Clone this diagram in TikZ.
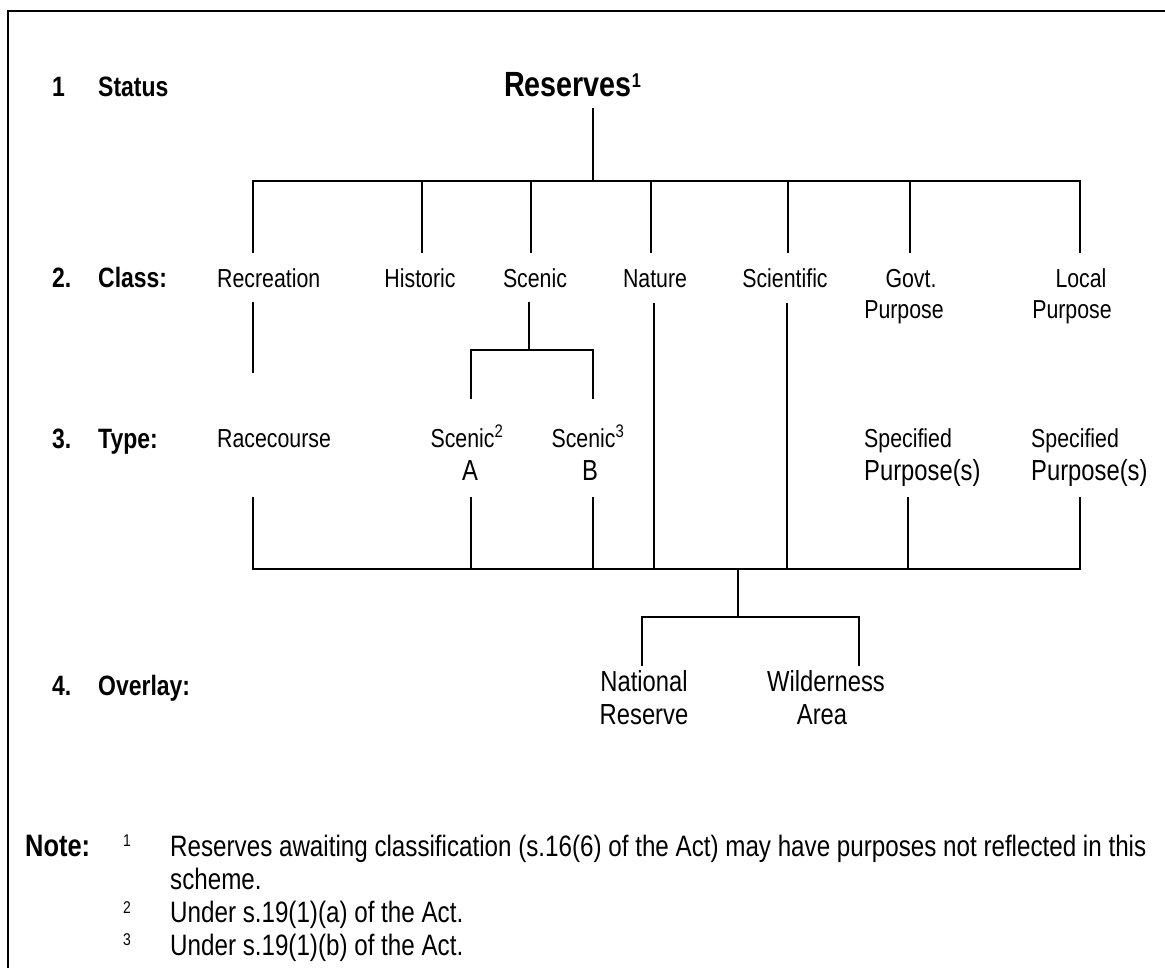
\documentclass[tikz,border=0pt]{standalone}
\usepackage{fontspec}
\setmainfont{Liberation Sans}[FakeStretch=0.82]
\begin{document}
\begin{tikzpicture}[x=1pt,y=-1pt,
  lbl/.style={font=\fontsize{26}{30}\selectfont, inner sep=0pt},
  bigl/.style={font=\fontsize{29}{33}\selectfont, inner sep=0pt},
  hdr/.style={font=\bfseries\fontsize{28}{32}\selectfont, inner sep=0pt, anchor=base west},
  rootl/.style={font=\bfseries\fontsize{35}{40}\selectfont, inner sep=0pt},
  notet/.style={font=\fontsize{29.5}{33}\selectfont, inner sep=0pt, anchor=base west},
  supn/.style={font=\fontsize{17}{20}\selectfont, inner sep=0pt, anchor=base},
  conn/.style={line width=2pt},
  framel/.style={line width=2.5pt}]
\useasboundingbox (0,0) rectangle (1165,968);
\fill[white] (0,0) rectangle (1165,968);
% frame
\coordinate (fbl) at (8,968);
\coordinate (ftl) at (8,11);
\coordinate (ftr) at (1165,11);
\draw[framel] (fbl) -- (ftl) -- (ftr);

% row labels
\node[hdr] (n1) at (52,97) {1};
\node[hdr] (st) at (98,97) {Status};
\node[hdr] (n2) at (52,288) {2.};
\node[hdr] (cl) at (98,288) {Class:};
\node[hdr] (n3) at (52,448) {3.};
\node[hdr] (ty) at (98,448) {Type:};
\node[hdr] (n4) at (52,695) {4.};
\node[hdr] (ov) at (98,695) {Overlay:};

% status
\node[rootl, anchor=base west] (res) at (504,97) {Reserves\textsuperscript{\fontsize{20}{22}\selectfont 1}};

% class
\node[lbl, anchor=base west] (rec) at (217,288) {Recreation};
\node[lbl, anchor=base] (his) at (420,288) {Historic};
\node[lbl, anchor=base] (sce) at (535,288) {Scenic};
\node[lbl, anchor=base] (nat) at (655,288) {Nature};
\node[lbl, anchor=base] (sci) at (785,288) {Scientific};
\node[lbl, anchor=base] (gov) at (911,288) {Govt.};
\node[lbl, anchor=base] (govp) at (904,319) {Purpose};
\node[lbl, anchor=base] (loc) at (1081,288) {Local};
\node[lbl, anchor=base] (locp) at (1072,319) {Purpose};

% type
\node[lbl, anchor=base west] (race) at (217,447) {Racecourse};
\node[lbl, anchor=base] (sca) at (467,447) {Scenic\textsuperscript{2}};
\node[bigl, anchor=base] (sca2) at (470,480) {A};
\node[lbl, anchor=base] (scb) at (588,447) {Scenic\textsuperscript{3}};
\node[bigl, anchor=base] (scb2) at (590,480) {B};
\node[lbl, anchor=base west] (spg) at (864,447) {Specified};
\node[bigl, anchor=base west] (spg2) at (864,480) {Purpose(s)};
\node[lbl, anchor=base west] (spl) at (1031,447) {Specified};
\node[bigl, anchor=base west] (spl2) at (1031,480) {Purpose(s)};

% overlay
\node[bigl, anchor=base] (nr) at (644,691) {National};
\node[bigl, anchor=base] (nr2) at (644,724) {Reserve};
\node[bigl, anchor=base] (wa) at (826,691) {Wilderness};
\node[bigl, anchor=base] (wa2) at (822,724) {Area};

% notes
\node[hdr, font=\bfseries\fontsize{31}{34}\selectfont] (note) at (25,856) {Note:};
\node[supn] (f1) at (127,846) {1};
\node[notet] (t1) at (170,856) {Reserves awaiting classification (s.16(6) of the Act) may have purposes not reflected in this};
\node[notet] (t1b) at (170,889) {scheme.};
\node[supn] (f2) at (127,913) {2};
\node[notet] (t2) at (170,922) {Under s.19(1)(a) of the Act.};
\node[supn] (f3) at (127,945) {3};
\node[notet] (t3) at (170,955) {Under s.19(1)(b) of the Act.};

% connectors: status -> class
\coordinate (rs) at (593,108);
\coordinate (hb) at (593,181);
\draw[conn] (rs) -- (hb);
\foreach \n/\x in {rec/253, his/422, sce/531, nat/651, sci/788, gov/910, loc/1080} {
  \coordinate (\n-a) at (\x,181);
  \coordinate (\n-b) at (\x,253);
}
\draw[conn] (rec-b) -- (rec-a) -- (loc-a) -- (loc-b);
\foreach \n in {his, sce, nat, sci, gov} { \draw[conn] (\n-a) -- (\n-b); }

% class -> type
\coordinate (rec-c) at (253,302);
\coordinate (rec-d) at (253,373);
\draw[conn] (rec-c) -- (rec-d);
\coordinate (sce-c) at (529,302);
\coordinate (sce-j) at (529,350);
\draw[conn] (sce-c) -- (sce-j);
\coordinate (sa-j) at (471,350);
\coordinate (sa-t) at (471,399);
\coordinate (sb-j) at (593,350);
\coordinate (sb-t) at (593,399);
\draw[conn] (sa-t) -- (sa-j) -- (sb-j) -- (sb-t);

% type -> overlay bar
\coordinate (nat-c) at (654,303);
\coordinate (nat-d) at (654,569);
\coordinate (sci-c) at (787,303);
\coordinate (sci-d) at (787,569);
\draw[conn] (nat-c) -- (nat-d);
\draw[conn] (sci-c) -- (sci-d);
\foreach \n/\x in {race/253, sa/471, sb/593, spg/908, spl/1080} {
  \coordinate (\n-u) at (\x,497);
  \coordinate (\n-v) at (\x,569);
}
\draw[conn] (race-u) -- (race-v) -- (spl-v) -- (spl-u);
\foreach \n in {sa, sb, spg} { \draw[conn] (\n-u) -- (\n-v); }

% overlay
\coordinate (ov-a) at (738,569);
\coordinate (ov-b) at (738,617);
\draw[conn] (ov-a) -- (ov-b);
\coordinate (nr-j) at (642,617);
\coordinate (nr-t) at (642,666);
\coordinate (wa-j) at (859,617);
\coordinate (wa-t) at (859,666);
\draw[conn] (nr-t) -- (nr-j) -- (wa-j) -- (wa-t);
\end{tikzpicture}
\end{document}
